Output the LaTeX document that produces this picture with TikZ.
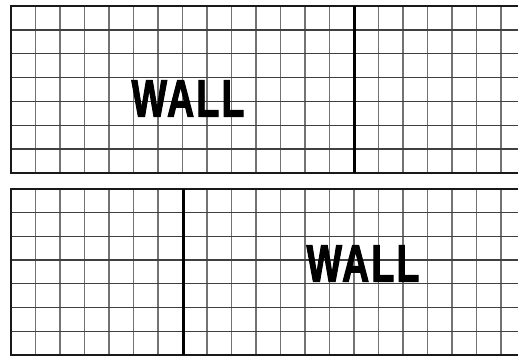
\documentclass[tikz,border=0pt]{standalone}
\usepackage{fontspec}
\setmainfont{Liberation Sans}
\newfontfamily\wallfont[BoldFont={* Bold}, BoldFeatures={FakeBold=2.5, LetterSpace=6}]{Liberation Sans}
\tikzset{
  gridv/.style={draw=black!55, line width=1.3pt},
  gridh/.style={draw=black!75, line width=1.3pt},
  border/.style={draw=black!90, line width=1.5pt},
  wall/.style={draw=black, line width=2.8pt},
  walltext/.style={font=\wallfont\fontsize{52}{52}\selectfont\bfseries, xscale=0.72, inner sep=0pt, text=black}
}
\begin{document}
\begin{tikzpicture}[x=1pt,y=-1pt]
\useasboundingbox[fill=white] (0,0) rectangle (518,356);
% top grid
\foreach \k in {1,...,20} \draw[gridv] ({11+24.5*\k},6) -- ({11+24.5*\k},173);
\foreach \k in {1,...,6} \draw[gridh] (11,{6+23.857*\k}) -- (518,{6+23.857*\k});
\draw[border] (518,6) -- (11,6) -- (11,173) -- (518,173);
\draw[wall] (354.5,6) -- (354.5,173);
\node[walltext] (w1) at (188,98.5) {WALL};
% bottom grid
\foreach \k in {1,...,20} \draw[gridv] ({11+24.5*\k},189) -- ({11+24.5*\k},355);
\foreach \k in {1,...,6} \draw[gridh] (11,{189+23.71*\k}) -- (518,{189+23.71*\k});
\draw[border] (518,189) -- (11,189) -- (11,355) -- (518,355);
\draw[wall] (183.5,189) -- (183.5,355);
\node[walltext] (w2) at (363,263.5) {WALL};
\end{tikzpicture}
\end{document}
